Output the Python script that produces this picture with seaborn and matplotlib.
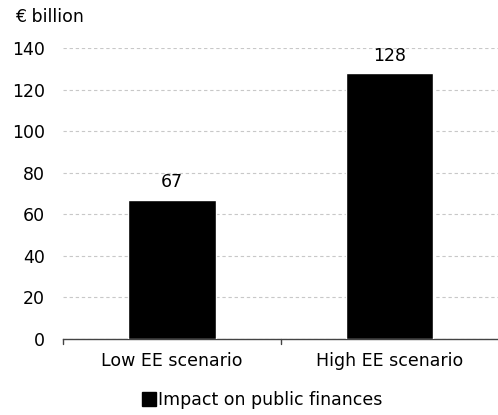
import pandas as pd
import seaborn as sns
import matplotlib.pyplot as plt
from matplotlib.lines import Line2D

# data
scenarios = ["Low EE scenario", "High EE scenario"]
impact = [67, 128]
series_name = "Impact on public finances"
y_ticks = [0, 20, 40, 60, 80, 100, 120, 140]

df = pd.DataFrame({"Scenario": scenarios, "Impact": impact})

sns.set_theme(style="white")
plt.rcParams['font.family'] = ['DejaVu Sans']
plt.rcParams['text.color'] = 'black'
plt.rcParams['xtick.color'] = 'black'
plt.rcParams['ytick.color'] = 'black'

FS = 12.5

fig = plt.figure(figsize=(4.98, 4.15), dpi=100)
ax = fig.add_axes([0.1265, 0.183, 0.875, 0.701])

sns.barplot(data=df, x="Scenario", y="Impact", color="black", width=0.4,
            saturation=1, ax=ax, zorder=3)

for p, v in zip(ax.patches, impact):
    ax.annotate(f"{v}", (p.get_x() + p.get_width() / 2, v),
                ha="center", va="bottom", xytext=(0, 6),
                textcoords="offset points", fontsize=FS)

ax.set_ylim(0, 140)
ax.set_xlim(-0.5, 1.5)
ax.set_yticks(y_ticks)
ax.tick_params(axis="y", labelsize=FS, length=0, pad=13)
ax.tick_params(axis="x", labelsize=FS, length=0, pad=9)
ax.grid(axis="y", linestyle=(0, (3, 2.5)), color="#c8c8c8", linewidth=0.8, zorder=0)
ax.set_xlabel("")
ax.set_ylabel("")

sns.despine(ax=ax, left=True, top=True, right=True)
ax.spines["bottom"].set_color("#444444")
ax.spines["bottom"].set_linewidth(1)

# category boundary ticks on the x axis
for xb in [-0.5, 0.5, 1.5]:
    ax.plot([xb, xb], [0, -2.2], color="#444444", lw=1, clip_on=False)

fig.text(0.03, 0.958, "€ billion", fontsize=FS, ha="left", va="center")

handle = Line2D([], [], marker="s", color="black", linestyle="none", markersize=10)
fig.legend([handle], [series_name], loc="center", bbox_to_anchor=(0.525, 0.035),
           frameon=False, fontsize=FS, handletextpad=0.0, handlelength=1.0)

fig.savefig("out.png", dpi=100)
